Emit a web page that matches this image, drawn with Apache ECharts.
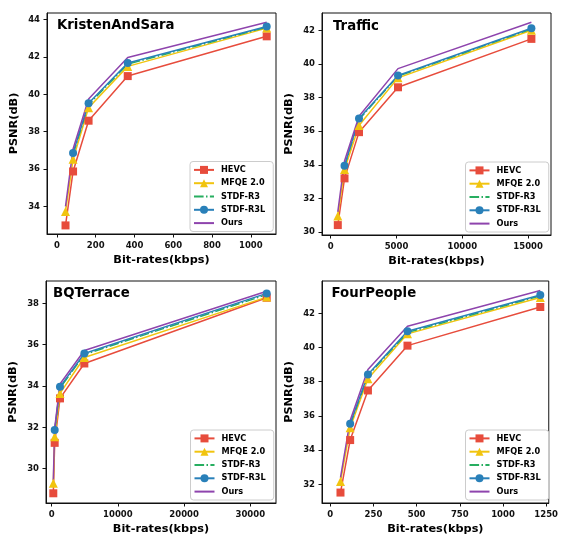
<!DOCTYPE html>
<html>
<head>
<meta charset="utf-8">
<script src="https://cdn.jsdelivr.net/npm/echarts@6/dist/echarts.min.js"></script>
<style>
  html, body { margin: 0; padding: 0; background: #fff; }
  #chart { width: 561px; height: 536px; }
</style>
</head>
<body>
<div id="chart"></div>
<script>
// series names, same in all four panels
const methods = ['HEVC', 'MFQE 2.0', 'STDF-R3', 'STDF-R3L', 'Ours']

// KristenAndSara
const ksRates = [44, 83, 163, 365, 1082]
const ksHevc = [32.98, 35.87, 38.59, 40.98, 43.11]
const ksMfqe = [33.73, 36.52, 39.28, 41.5, 43.55]
const ksStdfR3 = [36.8, 39.45, 41.62, 43.6]
const ksStdfR3L = [36.86, 39.52, 41.68, 43.64]
const ksOurs = [34.0, 37.07, 39.75, 41.98, 43.86]
const ksXTicks = [0, 200, 400, 600, 800, 1000]
const ksYTicks = [34, 36, 38, 40, 42, 44]

// Traffic
const trRates = [540, 1050, 2150, 5115, 15250]
const trHevc = [30.41, 33.19, 35.94, 38.61, 41.49]
const trMfqe = [30.95, 33.72, 36.34, 39.17, 42.0]
const trStdfR3 = [33.9, 36.7, 39.27, 42.08]
const trStdfR3L = [33.94, 36.75, 39.31, 42.12]
const trOurs = [31.2, 34.22, 36.89, 39.72, 42.48]
const trXTicks = [0, 5000, 10000, 15000]
const trYTicks = [30, 32, 34, 36, 38, 40, 42]

// BQTerrace
const bqRates = [242, 450, 1250, 4930, 32480]
const bqHevc = [28.81, 31.25, 33.4, 35.09, 38.27]
const bqMfqe = [29.29, 31.54, 33.64, 35.38, 38.3]
const bqStdfR3 = [31.82, 33.9, 35.52, 38.42]
const bqStdfR3L = [31.87, 33.96, 35.57, 38.48]
const bqOurs = [29.45, 31.95, 34.1, 35.72, 38.58]
const bqXTicks = [0, 10000, 20000, 30000]
const bqYTicks = [30, 32, 34, 36, 38]

// FourPeople
const fpRates = [59, 115, 218, 447, 1216]
const fpHevc = [31.52, 34.59, 37.49, 40.11, 42.37]
const fpMfqe = [32.16, 35.31, 38.17, 40.8, 42.92]
const fpStdfR3 = [35.48, 38.36, 40.88, 43.02]
const fpStdfR3L = [35.54, 38.42, 40.95, 43.07]
const fpOurs = [32.39, 35.74, 38.71, 41.24, 43.34]
const fpXTicks = [0, 250, 500, 750, 1000, 1250]
const fpYTicks = [32, 34, 36, 38, 40, 42]

const FONT = 'DejaVu Sans'
const colors = ['#e74c3c', '#f1c40f', '#27ae60', '#2980b9', '#8e44ad']
const symbols = ['rect', 'triangle', 'none', 'circle', 'none']

const panels = [
  { title: 'KristenAndSara', rates: ksRates, values: [ksHevc, ksMfqe, ksStdfR3, ksStdfR3L, ksOurs],
    xTicks: ksXTicks, yTicks: ksYTicks, xMin: -51.5, xMax: 1130, yMin: 32.52, yMax: 44.36,
    grid: { left: 47, top: 13, width: 229, height: 221 }, titlePos: [57, 18.5], legendPos: [190, 161.5] },
  { title: 'Traffic', rates: trRates, values: [trHevc, trMfqe, trStdfR3, trStdfR3L, trOurs],
    xTicks: trXTicks, yTicks: trYTicks, xMin: -661, xMax: 16740, yMin: 29.82, yMax: 43.03,
    grid: { left: 322, top: 13, width: 229, height: 222 }, titlePos: [333, 19.5], legendPos: [465.5, 162] },
  { title: 'BQTerrace', rates: bqRates, values: [bqHevc, bqMfqe, bqStdfR3, bqStdfR3L, bqOurs],
    xTicks: bqXTicks, yTicks: bqYTicks, xMin: -861, xMax: 33882, yMin: 28.34, yMax: 39.08,
    grid: { left: 46, top: 281, width: 230, height: 222 }, titlePos: [53, 286.5], legendPos: [190.5, 430] },
  { title: 'FourPeople', rates: fpRates, values: [fpHevc, fpMfqe, fpStdfR3, fpStdfR3L, fpOurs],
    xTicks: fpXTicks, yTicks: fpYTicks, xMin: -48, xMax: 1265, yMin: 30.91, yMax: 43.89,
    grid: { left: 322, top: 281, width: 229, height: 222 }, titlePos: [331.5, 286.5], legendPos: [465.5, 430] }
]

const labelStyle = { fontFamily: FONT, fontWeight: 'bold', fontSize: 8.5, color: '#111' }
const nameStyle = { fontFamily: FONT, fontWeight: 'bold', fontSize: 11.3, color: '#000' }

const option = {
  animation: false,
  backgroundColor: '#fff',
  title: [],
  legend: [],
  grid: [],
  xAxis: [],
  yAxis: [],
  series: []
}

panels.forEach((p, i) => {
  option.grid.push(Object.assign({ show: true, borderColor: '#111', borderWidth: 1, containLabel: false }, p.grid))
  option.title.push({
    text: p.title, left: p.titlePos[0], top: p.titlePos[1], padding: 0,
    textStyle: { fontFamily: FONT, fontWeight: 'bold', fontSize: 13.3, color: '#000', lineHeight: 13.3 }
  })
  option.xAxis.push({
    type: 'value', gridIndex: i, min: p.xMin, max: p.xMax,
    name: 'Bit-rates(kbps)', nameLocation: 'middle', nameGap: 21, nameTextStyle: nameStyle,
    axisLine: { show: true, onZero: false, lineStyle: { color: '#111', width: 1 } },
    axisTick: { show: true, length: 3.5, customValues: p.xTicks, lineStyle: { color: '#111' } },
    axisLabel: Object.assign({ customValues: p.xTicks, margin: 7, formatter: v => String(v) }, labelStyle),
    splitLine: { show: false }
  })
  option.yAxis.push({
    type: 'value', gridIndex: i, min: p.yMin, max: p.yMax,
    name: 'PSNR(dB)', nameLocation: 'middle', nameGap: 27, nameTextStyle: nameStyle,
    axisLine: { show: true, onZero: false, lineStyle: { color: '#111', width: 1 } },
    axisTick: { show: true, length: 3.5, customValues: p.yTicks, lineStyle: { color: '#111' } },
    axisLabel: Object.assign({ customValues: p.yTicks, margin: 7, formatter: v => String(v) }, labelStyle),
    splitLine: { show: false }
  })
  option.legend.push({
    orient: 'vertical', left: p.legendPos[0], top: p.legendPos[1],
    data: methods.map((m, k) => (symbols[k] === 'none' ? { name: m, itemStyle: { opacity: 0 } } : m)),
    itemWidth: 20, itemHeight: 10, itemGap: 3.3,
    padding: [3.4, 8, 3.4, 3],
    borderColor: '#ccc', borderWidth: 1, borderRadius: 3,
    backgroundColor: 'rgba(255,255,255,0.85)',
    textStyle: { fontFamily: FONT, fontWeight: 'bold', fontSize: 8.2, color: '#000', lineHeight: 10, padding: [0, 0, 0, 2] },
    selectedMode: false
  })
  p.values.forEach((vals, k) => {
    const xs = vals.length < p.rates.length ? p.rates.slice(p.rates.length - vals.length) : p.rates
    option.series.push({
      name: methods[k], type: 'line', xAxisIndex: i, yAxisIndex: i,
      data: vals.map((v, j) => [xs[j], v]),
      symbol: symbols[k], symbolSize: k === 1 ? 9 : 8,
      showSymbol: symbols[k] !== 'none',
      itemStyle: { color: colors[k] },
      lineStyle: { color: colors[k], width: 1.5, type: k === 2 ? [9.6, 2.4, 1.5, 2.4] : 'solid' },
      emphasis: { disabled: true }
    })
  })
})

const chart = echarts.init(document.getElementById('chart'), null, { renderer: 'canvas' })
chart.setOption(option)
</script>
</body>
</html>
